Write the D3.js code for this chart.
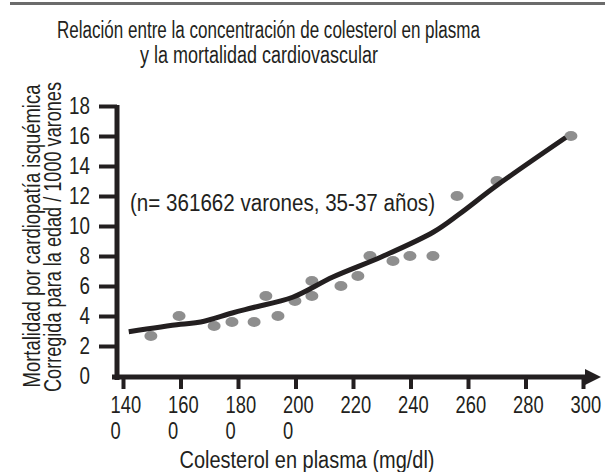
<!DOCTYPE html>
<html>
<head>
<meta charset="utf-8">
<script src="https://cdn.jsdelivr.net/npm/d3@7"></script>
<style>
  body { margin: 0; background: #fff; }
  text { font-family: "Liberation Sans Narrow", "Arial Narrow", "Liberation Sans", sans-serif; fill: #231f20; }
</style>
</head>
<body>
<div id="chart"></div>
<script>
// data
var dotX = [149.7, 159.5, 171.7, 177.9, 185.6, 189.7, 193.9, 199.8, 205.7, 205.7, 215.8, 221.7, 225.9, 233.9, 239.8, 247.8, 256.2, 270.1, 295.8];
var dotY = [2.67, 4.0, 3.33, 3.6, 3.6, 5.33, 4.0, 5.0, 6.33, 5.33, 6.0, 6.67, 8.0, 7.67, 8.0, 8.0, 12.0, 13.0, 16.0];
// fitted trend line
var lineX = [142, 160, 167, 178, 185, 199, 213, 230, 248, 257, 270, 294];
var lineY = [2.95, 3.45, 3.6, 4.2, 4.55, 5.25, 6.6, 7.95, 9.6, 10.8, 12.7, 15.9];
var yTicks = [0, 2, 4, 6, 8, 10, 12, 14, 16, 18];
var xTicks = [140, 160, 180, 200, 220, 240, 260, 280, 300];
var xTickLabels = [["140", "0"], ["160", "0"], ["180", "0"], ["200", "0"], ["220"], ["240"], ["260"], ["280"], ["300"]];

var W = 605, H = 472;

// no condensed font installed, so squeeze the glyphs
function narrow(sel, k) {
  sel.each(function () {
    var len = this.getComputedTextLength();
    d3.select(this).attr("textLength", len * k).attr("lengthAdjust", "spacingAndGlyphs");
  });
}
function fitTo(sel, w) {
  sel.attr("textLength", w).attr("lengthAdjust", "spacingAndGlyphs");
}

var svg = d3.select("#chart")
  .append("svg")
    .attr("width", W)
    .attr("height", H);

svg.append("rect").attr("width", W).attr("height", H).attr("fill", "#fff");

// grey rule at the top
svg.append("line")
  .attr("x1", 10).attr("x2", W)
  .attr("y1", 3.5).attr("y2", 3.5)
  .attr("stroke", "#6b6b6b").attr("stroke-width", 3);

// title
svg.append("text").attr("x", 268.5).attr("y", 38)
  .attr("text-anchor", "middle").style("font-size", "23.5px")
  .text("Relación entre la concentración de colesterol en plasma")
  .call(fitTo, 423);
svg.append("text").attr("x", 259).attr("y", 63)
  .attr("text-anchor", "middle").style("font-size", "23.5px")
  .text("y la mortalidad cardiovascular")
  .call(fitTo, 238);

var x = d3.scaleLinear().domain([140, 300]).range([123, 583]);
var y = d3.scaleLinear().domain([0, 18]).range([376, 106]);

// y axis
var yAxis = d3.axisLeft(y)
  .tickValues(yTicks)
  .tickSize(18)
  .tickSizeOuter(0)
  .tickPadding(9);

var gy = svg.append("g")
  .attr("transform", "translate(117,0)")
  .call(yAxis);
gy.select(".domain").remove();
gy.attr("font-family", null).attr("font-size", null);
gy.selectAll(".tick line")
  .attr("stroke", "#231f20").attr("stroke-width", 4)
  .attr("display", function (d) { return d === 0 ? "none" : null; });
gy.selectAll(".tick text")
  .attr("fill", "#231f20")
  .style("font-size", "23.5px")
  .call(narrow, 0.8);

// y axis line
svg.append("line")
  .attr("x1", 117).attr("x2", 117)
  .attr("y1", y(18) - 1).attr("y2", 380)
  .attr("stroke", "#231f20").attr("stroke-width", 5);

// x axis
var xAxis = d3.axisBottom(x)
  .tickValues(xTicks)
  .tickSize(12)
  .tickSizeOuter(0)
  .tickFormat("");

var gx = svg.append("g")
  .attr("transform", "translate(0,377)")
  .call(xAxis);
gx.select(".domain").remove();
gx.attr("font-family", null).attr("font-size", null);
gx.selectAll(".tick line")
  .attr("stroke", "#231f20").attr("stroke-width", 4);

gx.selectAll(".tick").each(function (d, i) {
  var t = d3.select(this).append("text")
    .attr("text-anchor", "start")
    .attr("fill", "#231f20")
    .style("font-size", "23.5px");
  xTickLabels[i].forEach(function (s, j) {
    t.append("tspan").attr("x", -13).attr("y", 36 + j * 26).text(s);
  });
});
gx.selectAll(".tick tspan").call(narrow, 0.78);

// x axis line with arrow
svg.append("line")
  .attr("x1", 112).attr("x2", 588)
  .attr("y1", 377).attr("y2", 377)
  .attr("stroke", "#231f20").attr("stroke-width", 5);
svg.append("path")
  .attr("d", "M585,369 L601,377 L585,385 Z")
  .attr("fill", "#231f20");

// axis titles
svg.append("text").attr("x", 307).attr("y", 468)
  .attr("text-anchor", "middle").style("font-size", "23px")
  .text("Colesterol en plasma (mg/dl)")
  .call(fitTo, 255);

svg.append("text")
  .attr("transform", "translate(40,236) rotate(-90)")
  .attr("text-anchor", "middle").style("font-size", "23px")
  .text("Mortalidad por cardiopatía isquémica")
  .call(fitTo, 303);
svg.append("text")
  .attr("transform", "translate(61,237) rotate(-90)")
  .attr("text-anchor", "middle").style("font-size", "23px")
  .text("Corregida para la edad / 1000 varones")
  .call(fitTo, 310);

// annotation
svg.append("text").attr("x", 130).attr("y", 211)
  .style("font-size", "23.5px")
  .text("(n= 361662 varones, 35-37 años)")
  .call(fitTo, 305);

// dots
var dots = dotX.map(function (v, i) { return {x: v, y: dotY[i]}; });
svg.append("g")
  .selectAll("ellipse")
  .data(dots)
  .enter()
  .append("ellipse")
    .attr("cx", function (d) { return x(d.x); })
    .attr("cy", function (d) { return y(d.y); })
    .attr("rx", 6.5)
    .attr("ry", 5)
    .attr("fill", "#8e8e8e");

// trend line
var pts = lineX.map(function (v, i) { return [v, lineY[i]]; });
var line = d3.line()
  .x(function (d) { return x(d[0]); })
  .y(function (d) { return y(d[1]); })
  .curve(d3.curveCatmullRom);

svg.append("path")
  .datum(pts)
  .attr("d", line)
  .attr("fill", "none")
  .attr("stroke", "#231f20")
  .attr("stroke-width", 5);
</script>
</body>
</html>
